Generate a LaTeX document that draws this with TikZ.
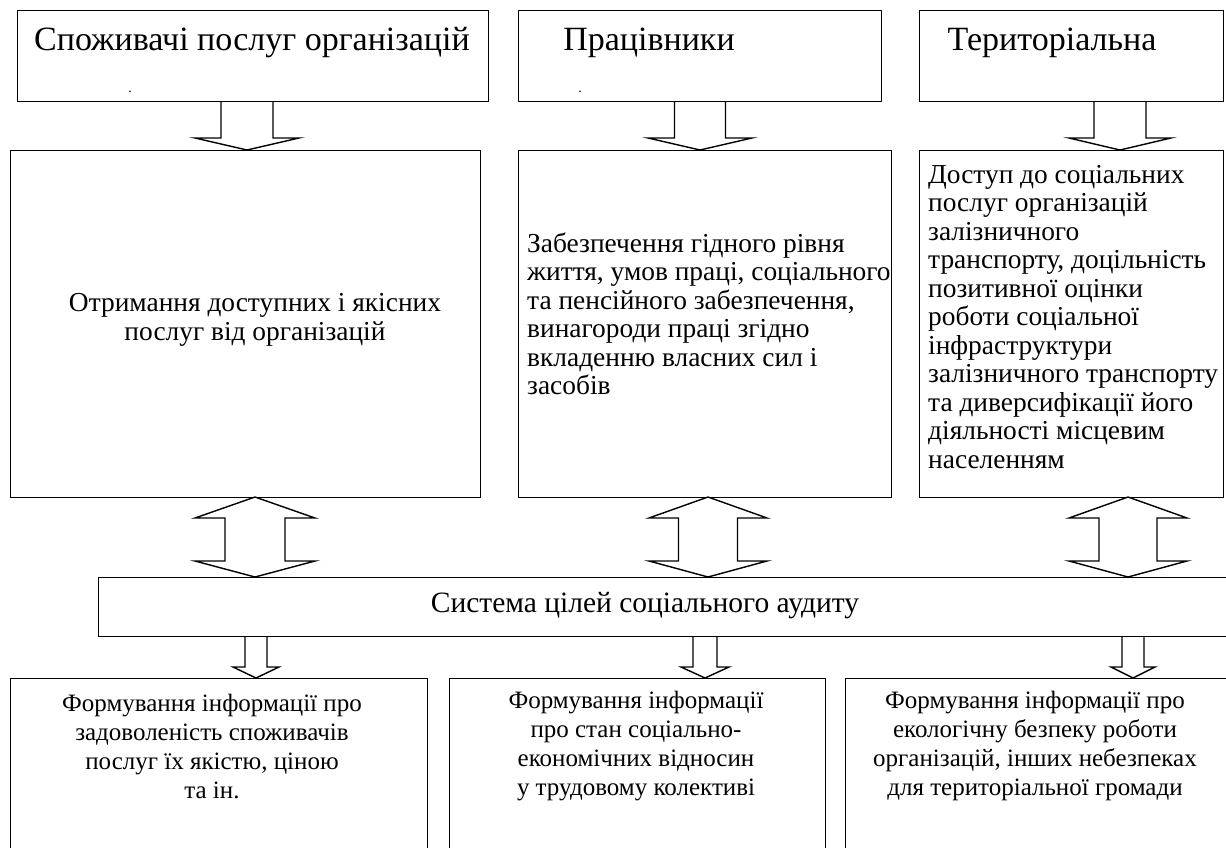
\documentclass[tikz,border=0pt]{standalone}
\usepackage{fontspec}
\setmainfont{Liberation Serif}
\newcommand\dnarrow[6]{% cx, ytop, ybase, ytip, shafthalf, headhalf
  \draw[blk] (#1-#5,#2) -- (#1-#5,#3) -- (#1-#6,#3) -- (#1,#4) -- (#1+#6,#3) -- (#1+#5,#3) -- (#1+#5,#2);}
\newcommand\dblarrow[7]{% cx, ytop, ybase1, ybase2, ybot, shafthalf, headhalf
  \draw[blk] (#1,#2) -- (#1+#7,#3) -- (#1+#6,#3) -- (#1+#6,#4) -- (#1+#7,#4) -- (#1,#5) -- (#1-#7,#4) -- (#1-#6,#4) -- (#1-#6,#3) -- (#1-#7,#3) -- cycle;}
\begin{document}
\begin{tikzpicture}[x=1pt,y=-1pt,
  box/.style={draw, line width=1.4pt, inner sep=0pt, anchor=north west},
  blk/.style={draw, line width=1.4pt, line join=miter},
  lbl/.style={font=\fontsize{34}{38}\selectfont, inner sep=0pt},
  slbl/.style={font=\fontsize{29.5}{34}\selectfont, inner sep=0pt},
  txt/.style={font=\fontsize{27.4}{28.5}\selectfont, inner sep=0pt},
  btxt/.style={font=\fontsize{25}{29}\selectfont, inner sep=0pt},
  dot/.style={font=\fontsize{14}{14}\selectfont, inner sep=0pt}]
\useasboundingbox (0,0) rectangle (1226,847);
\fill[white] (0,0) rectangle (1226,847);
% boxes
\node[box, minimum width=471pt, minimum height=91pt] (b1) at (17,10) {};
\node[box, minimum width=363pt, minimum height=91pt] (b2) at (518,10) {};
\node[box, minimum width=304pt, minimum height=91pt] (b3) at (919,10) {};
\node[box, minimum width=470pt, minimum height=347pt] (b4) at (10,150) {};
\node[box, minimum width=373pt, minimum height=347pt] (b5) at (518,150) {};
\node[box, minimum width=304pt, minimum height=347pt] (b6) at (919,150) {};
\node[box, minimum width=1150pt, minimum height=59pt] (sys) at (98,577) {};
\node[box, minimum width=417pt, minimum height=200pt] (b7) at (10,678) {};
\node[box, minimum width=376pt, minimum height=200pt] (b8) at (449,678) {};
\node[box, minimum width=400pt, minimum height=200pt] (b9) at (845,678) {};
% block arrows
\dnarrow{247}{101}{138}{150}{26}{52}
\dnarrow{700}{101}{138}{150}{25.5}{52}
\dnarrow{1120}{101}{138}{150}{26}{51}
\dblarrow{255}{497}{518}{561}{577}{30}{60}
\dblarrow{708}{497}{518}{561}{577}{29.5}{59}
\dblarrow{1128}{497}{518}{561}{577}{29}{59}
\dnarrow{256}{636}{667}{678}{11}{23}
\dnarrow{705}{636}{667}{678}{12}{24}
\dnarrow{1133}{636}{667}{678}{11}{22}
% texts
\node[lbl] (t1) at (252,43) {Споживачі послуг організацій};
\node[lbl] (t2) at (649,43) {Працівники};
\node[lbl] (t3) at (1052,43) {Територіальна};
\node[dot] (d1) at (130,92) {.};
\node[dot] (d2) at (580,92) {.};
\node[txt, align=center] (t4) at (255,320) {Отримання доступних і якісних\\послуг від організацій};
\node[txt, align=left, anchor=west] (t5) at (527,314) {Забезпечення гідного рівня\\життя, умов праці, соціального\\та пенсійного забезпечення,\\винагороди праці згідно\\вкладенню власних сил і\\засобів};
\node[txt, align=left, anchor=west] (t6) at (928,317) {Доступ до соціальних\\послуг організацій\\залізничного\\транспорту, доцільність\\позитивної оцінки\\роботи соціальної\\інфраструктури\\залізничного транспорту\\та диверсифікації його\\діяльності місцевим\\населенням};
\node[slbl] (ts) at (645,606) {Система цілей соціального аудиту};
\node[btxt, align=center] (t7) at (212,746) {Формування інформації про\\задоволеність споживачів\\послуг їх якістю, ціною\\та ін.};
\node[btxt, align=center] (t8) at (636,746) {Формування інформації\\про стан соціально-\\економічних відносин\\у трудовому колективі};
\node[btxt, align=center] (t9) at (1035,746) {Формування інформації про\\екологічну безпеку роботи\\організацій, інших небезпеках\\для територіальної громади};
\end{tikzpicture}
\end{document}
